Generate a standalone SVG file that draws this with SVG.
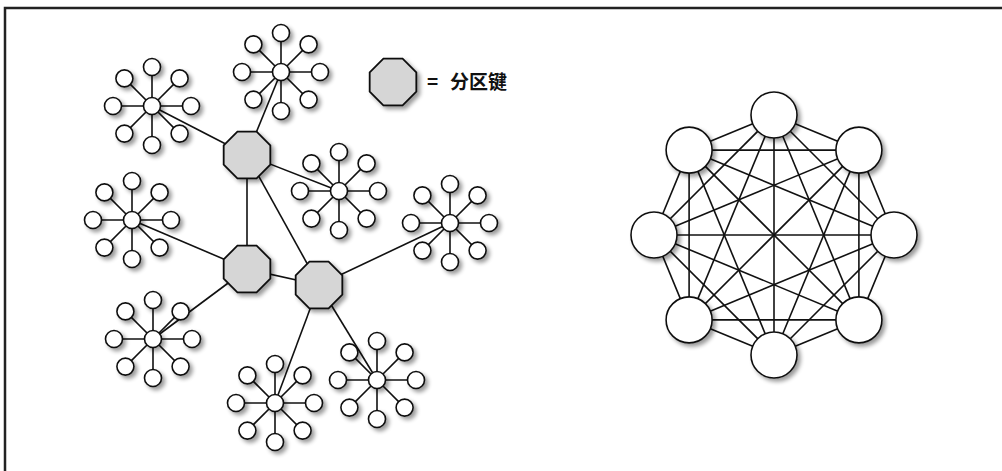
<svg xmlns="http://www.w3.org/2000/svg" xmlns:xlink="http://www.w3.org/1999/xlink" width="1002" height="471" viewBox="0 0 1002 471">
<style>
.ln{stroke:#111;stroke-width:1.6;fill:none}
.c{fill:#fff;stroke:#111;stroke-width:1.6;filter:url(#sh)}
.oct{fill:#d6d6d6;stroke:#111;stroke-width:1.8;filter:url(#sh)}
.lbl{font-family:"Noto Sans CJK SC","Noto Sans",sans-serif;font-size:19px;font-weight:bold;fill:#111}
</style>
<defs>
<filter id="sh" x="-40%" y="-40%" width="190%" height="190%">
<feGaussianBlur in="SourceAlpha" stdDeviation="2"/>
<feOffset dx="3" dy="3" result="o"/>
<feComponentTransfer><feFuncA type="linear" slope="0.4"/></feComponentTransfer>
<feMerge><feMergeNode/><feMergeNode in="SourceGraphic"/></feMerge>
</filter>
<polygon id="octShape" points="23.3,9.6 9.6,23.3 -9.6,23.3 -23.3,9.6 -23.3,-9.6 -9.6,-23.3 9.6,-23.3 23.3,-9.6"/>
<g id="star">
<g class="ln">
<line x1="0" y1="0" x2="0" y2="-39"/><line x1="0" y1="0" x2="0" y2="39"/>
<line x1="0" y1="0" x2="-39" y2="0"/><line x1="0" y1="0" x2="39" y2="0"/>
<line x1="0" y1="0" x2="-27.6" y2="-27.6"/><line x1="0" y1="0" x2="27.6" y2="-27.6"/>
<line x1="0" y1="0" x2="-27.6" y2="27.6"/><line x1="0" y1="0" x2="27.6" y2="27.6"/>
</g>
<circle class="c" cx="0" cy="-39" r="8.5"/><circle class="c" cx="0" cy="39" r="8.5"/>
<circle class="c" cx="-39" cy="0" r="8.5"/><circle class="c" cx="39" cy="0" r="8.5"/>
<circle class="c" cx="-27.6" cy="-27.6" r="8.5"/><circle class="c" cx="27.6" cy="-27.6" r="8.5"/>
<circle class="c" cx="-27.6" cy="27.6" r="8.5"/><circle class="c" cx="27.6" cy="27.6" r="8.5"/>
<circle class="c" cx="0" cy="0" r="8.5"/>
</g>
</defs>
<rect width="1002" height="471" fill="#fff"/>
<path d="M5,471 V8 H1002" stroke="#222" stroke-width="2.5" fill="none"/>

<g id="connectors" class="ln">
<line x1="152" y1="106" x2="247" y2="155"/>
<line x1="281" y1="72" x2="247" y2="155"/>
<line x1="247" y1="155" x2="339" y2="191"/>
<line x1="247" y1="155" x2="247" y2="269"/>
<line x1="247" y1="155" x2="319" y2="285"/>
<line x1="132" y1="220" x2="247" y2="269"/>
<line x1="247" y1="269" x2="319" y2="285"/>
<line x1="247" y1="269" x2="153" y2="339"/>
<line x1="319" y1="285" x2="450" y2="223"/>
<line x1="319" y1="285" x2="275" y2="403"/>
<line x1="319" y1="285" x2="377" y2="380"/>
<!-- full mesh -->
<line x1="774" y1="115" x2="858.9" y2="150.1"/>
<line x1="774" y1="115" x2="894" y2="235"/>
<line x1="774" y1="115" x2="858.9" y2="319.9"/>
<line x1="774" y1="115" x2="774" y2="355"/>
<line x1="774" y1="115" x2="689.1" y2="319.9"/>
<line x1="774" y1="115" x2="654" y2="235"/>
<line x1="774" y1="115" x2="689.1" y2="150.1"/>
<line x1="858.9" y1="150.1" x2="894" y2="235"/>
<line x1="858.9" y1="150.1" x2="858.9" y2="319.9"/>
<line x1="858.9" y1="150.1" x2="774" y2="355"/>
<line x1="858.9" y1="150.1" x2="689.1" y2="319.9"/>
<line x1="858.9" y1="150.1" x2="654" y2="235"/>
<line x1="858.9" y1="150.1" x2="689.1" y2="150.1"/>
<line x1="894" y1="235" x2="858.9" y2="319.9"/>
<line x1="894" y1="235" x2="774" y2="355"/>
<line x1="894" y1="235" x2="689.1" y2="319.9"/>
<line x1="894" y1="235" x2="654" y2="235"/>
<line x1="894" y1="235" x2="689.1" y2="150.1"/>
<line x1="858.9" y1="319.9" x2="774" y2="355"/>
<line x1="858.9" y1="319.9" x2="689.1" y2="319.9"/>
<line x1="858.9" y1="319.9" x2="654" y2="235"/>
<line x1="858.9" y1="319.9" x2="689.1" y2="150.1"/>
<line x1="774" y1="355" x2="689.1" y2="319.9"/>
<line x1="774" y1="355" x2="654" y2="235"/>
<line x1="774" y1="355" x2="689.1" y2="150.1"/>
<line x1="689.1" y1="319.9" x2="654" y2="235"/>
<line x1="689.1" y1="319.9" x2="689.1" y2="150.1"/>
<line x1="654" y1="235" x2="689.1" y2="150.1"/>
</g>

<g id="starA"><use xlink:href="#star" href="#star" x="152" y="106"/></g>
<g id="starB"><use xlink:href="#star" href="#star" x="281" y="72"/></g>
<g id="starC"><use xlink:href="#star" href="#star" x="339" y="191"/></g>
<g id="starD"><use xlink:href="#star" href="#star" x="132" y="220"/></g>
<g id="starE"><use xlink:href="#star" href="#star" x="450" y="223"/></g>
<g id="starF"><use xlink:href="#star" href="#star" x="153" y="339"/></g>
<g id="starG"><use xlink:href="#star" href="#star" x="275" y="403"/></g>
<g id="starH"><use xlink:href="#star" href="#star" x="377" y="380"/></g>

<g id="key1"><use class="oct" xlink:href="#octShape" href="#octShape" x="247" y="155"/></g>
<g id="key2"><use class="oct" xlink:href="#octShape" href="#octShape" x="247" y="269"/></g>
<g id="key3"><use class="oct" xlink:href="#octShape" href="#octShape" x="319" y="285"/></g>

<g id="legend">
<use class="oct" xlink:href="#octShape" href="#octShape" x="393" y="82"/>
<text class="lbl" y="89"><tspan x="427">=</tspan><tspan x="450">分区键</tspan></text>
</g>

<g id="n0"><circle class="c" cx="774" cy="115" r="23"/></g>
<g id="n1"><circle class="c" cx="858.9" cy="150.1" r="23"/></g>
<g id="n2"><circle class="c" cx="894" cy="235" r="23"/></g>
<g id="n3"><circle class="c" cx="858.9" cy="319.9" r="23"/></g>
<g id="n4"><circle class="c" cx="774" cy="355" r="23"/></g>
<g id="n5"><circle class="c" cx="689.1" cy="319.9" r="23"/></g>
<g id="n6"><circle class="c" cx="654" cy="235" r="23"/></g>
<g id="n7"><circle class="c" cx="689.1" cy="150.1" r="23"/></g>
</svg>
